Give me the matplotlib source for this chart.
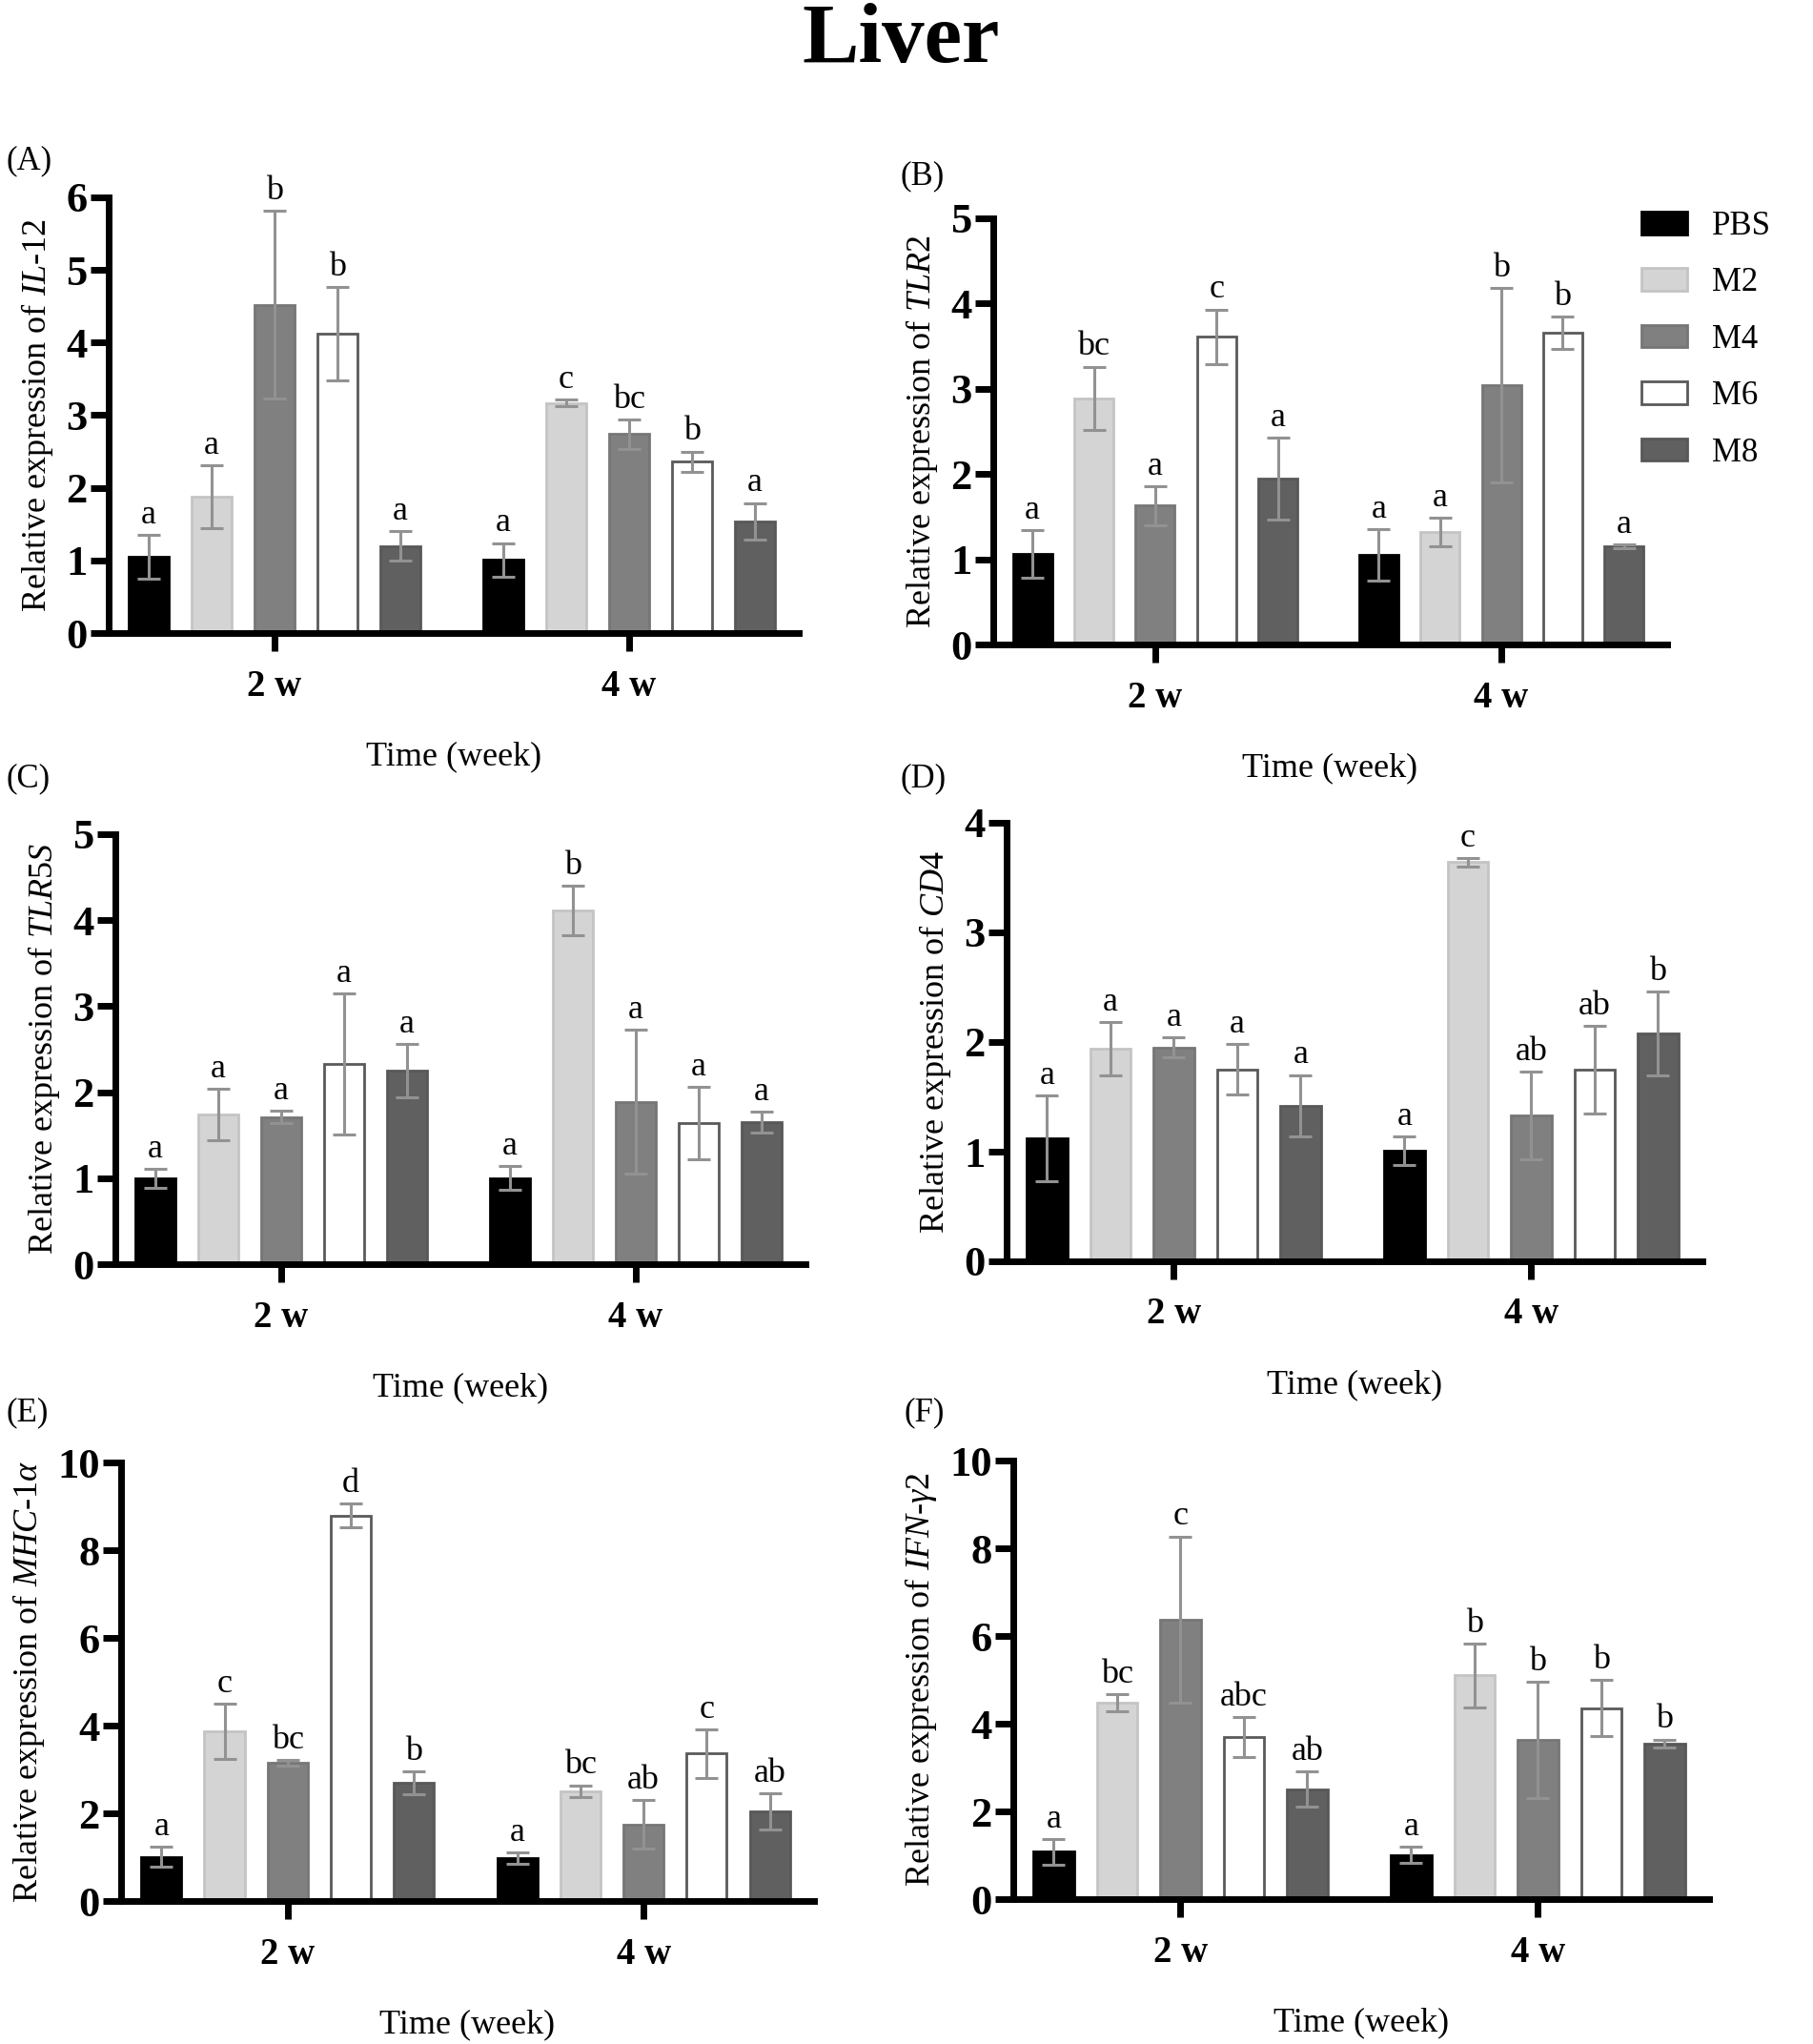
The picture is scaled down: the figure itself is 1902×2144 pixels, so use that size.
import numpy as np
import matplotlib.pyplot as plt

plt.rcParams['font.family'] = 'Liberation Serif'
plt.rcParams['mathtext.fontset'] = 'custom'
plt.rcParams['mathtext.rm'] = 'Liberation Serif'
plt.rcParams['mathtext.it'] = 'Liberation Serif:italic'
plt.rcParams['mathtext.bf'] = 'Liberation Serif:bold'

groups = ['PBS', 'M2', 'M4', 'M6', 'M8']
weeks = ['2 w', '4 w']

# values, one row per week (PBS, M2, M4, M6, M8)
il12_mean = [[1.05, 1.88, 4.52, 4.12, 1.20], [1.01, 3.17, 2.74, 2.36, 1.54]]
il12_err = [[0.30, 0.43, 1.29, 0.64, 0.20], [0.23, 0.05, 0.20, 0.14, 0.25]]
il12_sig = [['a', 'a', 'b', 'b', 'a'], ['a', 'c', 'bc', 'b', 'a']]

tlr2_mean = [[1.06, 2.89, 1.63, 3.61, 1.95], [1.05, 1.32, 3.04, 3.66, 1.15]]
tlr2_err = [[0.28, 0.37, 0.23, 0.32, 0.48], [0.30, 0.17, 1.14, 0.19, 0.02]]
tlr2_sig = [['a', 'bc', 'a', 'c', 'a'], ['a', 'a', 'b', 'b', 'a']]

tlr5s_mean = [[1.00, 1.74, 1.71, 2.33, 2.25], [1.00, 4.11, 1.89, 1.64, 1.65]]
tlr5s_err = [[0.11, 0.30, 0.07, 0.82, 0.31], [0.14, 0.29, 0.84, 0.42, 0.12]]
tlr5s_sig = [['a', 'a', 'a', 'a', 'a'], ['a', 'b', 'a', 'a', 'a']]

cd4_mean = [[1.12, 1.94, 1.95, 1.75, 1.42], [1.01, 3.64, 1.33, 1.75, 2.08]]
cd4_err = [[0.39, 0.24, 0.09, 0.23, 0.28], [0.13, 0.04, 0.40, 0.40, 0.38]]
cd4_sig = [['a', 'a', 'a', 'a', 'a'], ['a', 'c', 'ab', 'ab', 'b']]

mhc_mean = [[1.01, 3.87, 3.15, 8.79, 2.70], [0.98, 2.51, 1.75, 3.36, 2.04]]
mhc_err = [[0.23, 0.63, 0.07, 0.27, 0.26], [0.13, 0.13, 0.55, 0.55, 0.42]]
mhc_sig = [['a', 'c', 'bc', 'd', 'b'], ['a', 'bc', 'ab', 'c', 'ab']]

ifn_mean = [[1.08, 4.48, 6.37, 3.70, 2.51], [1.01, 5.10, 3.63, 4.35, 3.55]]
ifn_err = [[0.29, 0.19, 1.90, 0.45, 0.40], [0.19, 0.72, 1.32, 0.64, 0.09]]
ifn_sig = [['a', 'bc', 'c', 'abc', 'ab'], ['a', 'b', 'b', 'b', 'b']]

fills = ['#000000', '#d4d4d4', '#808080', '#ffffff', '#606060']
edges = ['#000000', '#c4c4c4', '#767676', '#5a5a5a', '#585858']

W, H = 1902, 2144
fig = plt.figure(figsize=(W / 100, H / 100), dpi=100)


def px_axes(left, right, top, bottom):
    return fig.add_axes([left / W, 1 - bottom / H, (right - left) / W, (bottom - top) / H])


panels = [
    ('(A)', (6, 169), (114, 838, 207, 664), 6, 1, r'$\mathit{IL}$-$\mathit{12}$', il12_mean, il12_err, il12_sig),
    ('(B)', (945, 185), (1042, 1749, 229, 676), 5, 1, r'$\mathit{TLR2}$', tlr2_mean, tlr2_err, tlr2_sig),
    ('(C)', (6, 817), (121, 845, 875, 1326), 5, 1, r'$\mathit{TLR5S}$', tlr5s_mean, tlr5s_err, tlr5s_sig),
    ('(D)', (945, 817), (1056, 1786, 863, 1323), 4, 1, r'$\mathit{CD4}$', cd4_mean, cd4_err, cd4_sig),
    ('(E)', (6, 1482), (127, 854, 1534, 1994), 10, 2, r'$\mathit{MHC}$-$\mathit{1\alpha}$', mhc_mean, mhc_err, mhc_sig),
    ('(F)', (948, 1482), (1063, 1793, 1532, 1992), 10, 2, r'$\mathit{IFN}$-$\mathit{\gamma 2}$', ifn_mean, ifn_err, ifn_sig),
]

pitch = 0.1774
width = 0.113
legend_bars = []

for tag, tag_pos, rect, ymax, ystep, gene, means, errs, sigs in panels:
    ax = px_axes(*rect)
    for g in range(len(groups)):
        xs = np.arange(len(weeks)) + (g - 2) * pitch
        m = [means[w][g] for w in range(len(weeks))]
        e = [errs[w][g] for w in range(len(weeks))]
        bars = ax.bar(xs, m, width, color=fills[g], edgecolor=edges[g], linewidth=2, label=groups[g])
        ax.errorbar(xs, m, yerr=e, fmt='none', ecolor='#929292', elinewidth=2.2,
                    capsize=8.5, capthick=2.2, zorder=3)
        for w in range(len(weeks)):
            ax.annotate(sigs[w][g], (xs[w], m[w] + e[w]), xytext=(0, 3), textcoords='offset points',
                        ha='center', va='bottom', fontsize=26)
        if tag == '(B)':
            legend_bars.append(bars)

    ax.set_xlim(-0.468, 1.479)
    ax.set_ylim(0, ymax)
    ax.set_yticks(np.arange(0, ymax + 0.01, ystep))
    ax.set_xticks(range(len(weeks)), weeks)
    for s in ['top', 'right']:
        ax.spines[s].set_visible(False)
    for s in ['left', 'bottom']:
        ax.spines[s].set_linewidth(5)
    ax.tick_params(axis='x', length=14, width=5, pad=13, labelsize=28)
    ax.tick_params(axis='y', length=14, width=5, pad=2, labelsize=32)
    for lab in ax.get_xticklabels() + ax.get_yticklabels():
        lab.set_fontweight('bold')
    ax.set_xlabel('Time (week)', fontsize=26, labelpad=28)
    ax.set_ylabel('Relative expression of ' + gene, fontsize=26, labelpad=8)
    fig.text(tag_pos[0] / W, 1 - tag_pos[1] / H, tag, fontsize=25, ha='left', va='center')

fig.legend(legend_bars, groups, loc='upper left', bbox_to_anchor=(1722 / W, 1 - 221 / H),
           frameon=False, fontsize=25, handlelength=1.38, handleheight=0.66,
           handletextpad=0.75, labelspacing=0.76, borderpad=0, borderaxespad=0)

fig.text(945 / W, 1 - 44 / H, 'Liver', fontsize=64, fontweight='bold', ha='center', va='center')

fig.savefig('out.png', dpi=100)
